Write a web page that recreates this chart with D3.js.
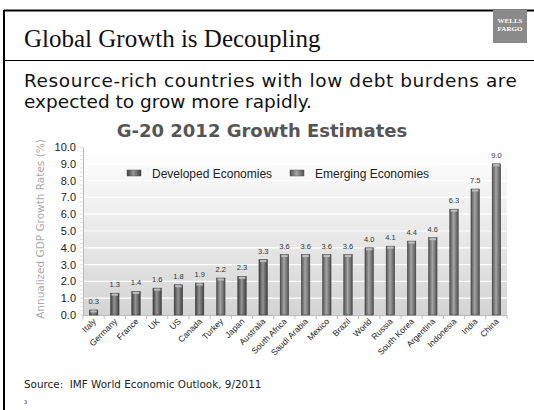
<!DOCTYPE html>
<html>
<head>
<meta charset="utf-8">
<script src="https://cdn.jsdelivr.net/npm/d3@7"></script>
<style>
  html, body { margin: 0; padding: 0; background: #fff; }
  svg { display: block; }
</style>
</head>
<body>
<div id="mainGraphic"></div>
<script>
let svgWidth = 534
let svgHeight = 410

// chart data
let countries = ["Italy", "Germany", "France", "UK", "US", "Canada", "Turkey", "Japan", "Australia",
  "South Africa", "Saudi Arabia", "Mexico", "Brazil", "World", "Russia", "South Korea", "Argentina",
  "Indonesia", "India", "China"]
let growth = [0.3, 1.3, 1.4, 1.6, 1.8, 1.9, 2.2, 2.3, 3.3, 3.6, 3.6, 3.6, 3.6, 4.0, 4.1, 4.4, 4.6, 6.3, 7.5, 9.0]
let developed = ["Italy", "Germany", "France", "UK", "US", "Canada", "Japan", "Australia"]
let yTicks = [0, 1, 2, 3, 4, 5, 6, 7, 8, 9, 10]
let legendItems = ["Developed Economies", "Emerging Economies"]

renderChart();

function renderChart(){
  let svg = d3.select("#mainGraphic")
    .append("svg")
      .attr("width", svgWidth)
      .attr("height", svgHeight)

  let defs = svg.append("defs")
  let bg = defs.append("linearGradient").attr("id", "plotBg")
    .attr("x1", 0).attr("y1", 0).attr("x2", 0).attr("y2", 1)
  bg.append("stop").attr("offset", "0%").attr("stop-color", "#ffffff")
  bg.append("stop").attr("offset", "100%").attr("stop-color", "#d4d4d4")

  function barGrad(id, edge, mid){
    let g = defs.append("linearGradient").attr("id", id)
      .attr("x1", 0).attr("y1", 0).attr("x2", 1).attr("y2", 0)
    g.append("stop").attr("offset", "0%").attr("stop-color", edge)
    g.append("stop").attr("offset", "45%").attr("stop-color", mid)
    g.append("stop").attr("offset", "100%").attr("stop-color", edge)
  }
  barGrad("devGrad", "#3e3e3e", "#959595")
  barGrad("emgGrad", "#505050", "#a5a5a5")

  // slide frame
  svg.append("line").attr("x1", 4).attr("x2", svgWidth).attr("y1", 10.5).attr("y2", 10.5)
    .attr("stroke", "#000").attr("stroke-width", 2)
  svg.append("line").attr("x1", 4).attr("x2", 4).attr("y1", 10).attr("y2", svgHeight)
    .attr("stroke", "#000").attr("stroke-width", 2)
  svg.append("line").attr("x1", 4).attr("x2", svgWidth).attr("y1", 60.5).attr("y2", 60.5)
    .attr("stroke", "#000").attr("stroke-width", 1.2)

  // logo
  svg.append("rect").attr("x", 493).attr("y", 10).attr("width", 34).attr("height", 33)
    .attr("fill", "#8a8a8a")
  svg.append("text").attr("x", 510).attr("y", 23).attr("text-anchor", "middle")
    .style("font-family", "Liberation Serif").style("font-weight", "bold")
    .style("font-size", "7px").attr("fill", "#fff").text("WELLS")
  svg.append("text").attr("x", 510).attr("y", 31).attr("text-anchor", "middle")
    .style("font-family", "Liberation Serif").style("font-weight", "bold")
    .style("font-size", "7px").attr("fill", "#fff").text("FARGO")

  svg.append("text").attr("x", 24).attr("y", 47)
    .style("font-family", "Liberation Serif").style("font-size", "25px")
    .attr("fill", "#111").text("Global Growth is Decoupling")

  let sub = ["Resource-rich countries with low debt burdens are", "expected to grow more rapidly."]
  let subText = svg.selectAll(".sub").data(sub).enter().append("text")
    .attr("class", "sub")
    .attr("x", 24).attr("y", (d, i) => 87 + i * 21)
    .style("font-family", "DejaVu Sans").style("font-size", "18.5px")
    .attr("fill", "#111").text(d => d)
  subText.filter((d, i) => i === 0).attr("textLength", 493).attr("lengthAdjust", "spacing")

  svg.append("text").attr("x", 262).attr("y", 137).attr("text-anchor", "middle")
    .style("font-family", "DejaVu Sans").style("font-weight", "bold").style("font-size", "18px")
    .attr("fill", "#555").text("G-20 2012 Growth Estimates")

  // scales
  let x = d3.scaleBand().domain(countries).range([83, 507]).paddingInner(0.6).paddingOuter(0.3)
  let y = d3.scaleLinear().domain([0, 10]).range([315, 147])

  let plot = svg.append("g")
  plot.append("rect").attr("x", 83).attr("y", y(10)).attr("width", 424).attr("height", y(0) - y(10))
    .attr("fill", "url(#plotBg)")

  plot.selectAll(".grid").data(yTicks.slice(1)).enter().append("line")
    .attr("x1", 83).attr("x2", 507).attr("y1", d => y(d)).attr("y2", d => y(d))
    .attr("stroke", "#fff").attr("stroke-width", 1.2)

  // y axis with minor ticks
  let yAxis = d3.axisLeft(y).tickValues(yTicks).tickFormat(d3.format(".1f")).tickSize(0).tickPadding(7)
  let ya = svg.append("g").attr("transform", "translate(83,0)").call(yAxis)
  ya.select(".domain").attr("stroke", "#bbb")
  ya.selectAll("text").style("font-family", "Liberation Sans").style("font-size", "11px").attr("fill", "#222")
  let minor = d3.range(0, 10.01, 0.25)
  svg.append("g").selectAll("line").data(minor).enter().append("line")
    .attr("x1", 80).attr("x2", 83).attr("y1", d => y(d)).attr("y2", d => y(d))
    .attr("stroke", "#ccc").attr("stroke-width", 0.6)

  // x axis
  svg.append("line").attr("x1", 83).attr("x2", 507).attr("y1", y(0) + 0.5).attr("y2", y(0) + 0.5)
    .attr("stroke", "#bbb")
  let step = x.step()
  svg.append("g").selectAll("line").data(d3.range(countries.length + 1)).enter().append("line")
    .attr("x1", d => 83 + d * step).attr("x2", d => 83 + d * step)
    .attr("y1", y(0)).attr("y2", y(0) + 4).attr("stroke", "#bbb")

  svg.append("g").selectAll("text").data(countries).enter().append("text")
    .attr("transform", d => "translate(" + (x(d) + x.bandwidth() / 2 + 3) + "," + (y(0) + 7) + ") rotate(-45)")
    .attr("text-anchor", "end")
    .style("font-family", "Liberation Sans").style("font-size", "8.5px").attr("fill", "#222")
    .text(d => d)

  // bars
  let data = countries.map((c, i) => ({name: c, value: growth[i], dev: developed.includes(c)}))
  let bars = svg.append("g").selectAll("g").data(data).enter().append("g")
  bars.append("rect")
    .attr("x", d => x(d.name)).attr("y", d => y(d.value))
    .attr("width", x.bandwidth()).attr("height", d => y(0) - y(d.value))
    .attr("fill", d => d.dev ? "url(#devGrad)" : "url(#emgGrad)")
    .attr("stroke", "#3a3a3a").attr("stroke-width", 0.5)
  bars.append("rect")
    .attr("x", d => x(d.name) + 1).attr("y", d => y(d.value) + 0.5)
    .attr("width", x.bandwidth() - 2).attr("height", 2)
    .attr("fill", "#bdbdbd")
  bars.append("text")
    .attr("x", d => x(d.name) + x.bandwidth() / 2).attr("y", d => y(d.value) - 6)
    .attr("text-anchor", "middle")
    .style("font-family", "Liberation Sans").style("font-size", "7.5px").attr("fill", "#333")
    .text(d => d3.format(".1f")(d.value))

  // legend
  let legX = [127, 290]
  let leg = svg.append("g").selectAll("g").data(legendItems).enter().append("g")
    .attr("transform", (d, i) => "translate(" + legX[i] + ",170)")
  leg.append("rect").attr("width", 14).attr("height", 6)
    .attr("fill", (d, i) => i === 0 ? "url(#devGrad)" : "url(#emgGrad)")
    .attr("stroke", "#555").attr("stroke-width", 0.5)
  leg.append("text").attr("x", 25).attr("y", 7.5)
    .style("font-family", "Liberation Sans").style("font-size", "12px").attr("fill", "#222")
    .text(d => d)

  // y label
  svg.append("text")
    .attr("transform", "translate(44,229) rotate(-90)").attr("text-anchor", "middle")
    .style("font-family", "DejaVu Sans").style("font-size", "10.5px").attr("fill", "#aaa")
    .text("Annualized GDP Growth Rates (%)")

  svg.append("text").attr("x", 24).attr("y", 388)
    .style("font-family", "DejaVu Sans").style("font-size", "10.4px").attr("fill", "#222")
    .attr("xml:space", "preserve")
    .text("Source:  IMF World Economic Outlook, 9/2011")
  svg.append("text").attr("x", 24).attr("y", 404)
    .style("font-family", "DejaVu Sans").style("font-size", "5px").attr("fill", "#222")
    .text("3")
}
</script>
</body>
</html>
